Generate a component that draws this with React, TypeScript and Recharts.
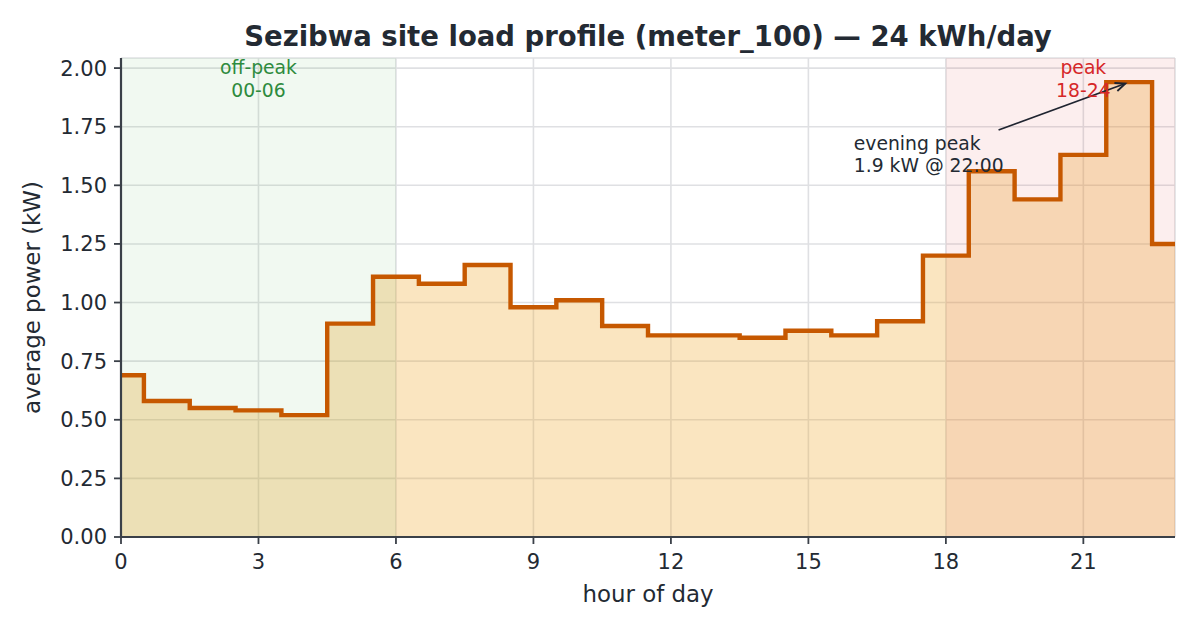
import {
  Area,
  CartesianGrid,
  ComposedChart,
  Label,
  Line,
  ReferenceArea,
  ReferenceDot,
  ReferenceLine,
  XAxis,
  YAxis,
} from 'recharts'

if (typeof document !== 'undefined') document.body.style.margin = '0'

// hourly averages, kW
const HOURS = [0, 1, 2, 3, 4, 5, 6, 7, 8, 9, 10, 11, 12, 13, 14, 15, 16, 17, 18, 19, 20, 21, 22, 23]
const LOAD_KW = [
  0.69, 0.58, 0.55, 0.54, 0.52, 0.91, 1.11, 1.08, 1.16, 0.98, 1.01, 0.9,
  0.86, 0.86, 0.85, 0.88, 0.86, 0.92, 1.2, 1.56, 1.44, 1.63, 1.94, 1.25,
]

const X_TICKS = [0, 3, 6, 9, 12, 15, 18, 21]
const Y_TICKS = [0, 0.25, 0.5, 0.75, 1, 1.25, 1.5, 1.75, 2]
const X_DOMAIN = [0, 23]
const Y_DOMAIN = [0, 2.043]

const OFF_PEAK = [0, 6]
const PEAK = [18, 23] // 18-24 span, cut at the last hour
const REGION_LABELS = [
  { x: 3, lines: ['off-peak', '00-06'], color: '#2e8b3e' },
  { x: 21, lines: ['peak', '18-24'], color: '#d62728' },
]

const PEAK_POINT = { x: 22, y: 1.94 }
const ARROW_TAIL = { x: 19.15, y: 1.736 }
const NOTE_POS = { x: 15.99, y: 1.633 }
const NOTE_LINES = ['evening peak', '1.9 kW @ 22:00']

const TEXT = '#232a33'
const SPINE = '#3a4048'
const GRID = '#dfe0e3'
const LINE = '#c65800'
const FONT = '"DejaVu Sans", sans-serif'

const data = HOURS.map((hour, i) => ({ hour, kw: LOAD_KW[i] }))

const tickStyle = { fill: TEXT, fontSize: 21, fontFamily: FONT }

function ArrowShape(props: any) {
  const { x1, y1, x2, y2 } = props
  const dx = x2 - x1
  const dy = y2 - y1
  const len = Math.sqrt(dx * dx + dy * dy)
  const ux = dx / len
  const uy = dy / len
  // pull the tip back a little, like matplotlib's shrink
  const tx = x2 - ux * 4
  const ty = y2 - uy * 4
  const head = 11
  const spread = 0.4
  const cos = Math.cos(spread)
  const sin = Math.sin(spread)
  const ax = tx - head * (ux * cos - uy * sin)
  const ay = ty - head * (uy * cos + ux * sin)
  const bx = tx - head * (ux * cos + uy * sin)
  const by = ty - head * (uy * cos - ux * sin)
  return (
    <g stroke="#1f2430" strokeWidth={1.8} fill="none">
      <line x1={x1} y1={y1} x2={tx} y2={ty} />
      <polyline points={`${ax},${ay} ${tx},${ty} ${bx},${by}`} />
    </g>
  )
}

function NoteShape(props: any) {
  const { cx, cy } = props
  return (
    <text x={cx} y={cy} fill={TEXT} fontSize={18.75} fontFamily={FONT}>
      <tspan x={cx} y={cy - 4.5}>{NOTE_LINES[0]}</tspan>
      <tspan x={cx} y={cy + 18}>{NOTE_LINES[1]}</tspan>
    </text>
  )
}

function regionLabel(lines: string[], color: string) {
  return (props: any) => {
    const { cx, cy } = props
    return (
      <text fill={color} fontSize={18.75} fontFamily={FONT} textAnchor="middle">
        <tspan x={cx} y={cy + 16}>{lines[0]}</tspan>
        <tspan x={cx} y={cy + 38.5}>{lines[1]}</tspan>
      </text>
    )
  }
}

export default function App() {
  return (
    <div style={{ position: 'relative', width: 1200, height: 630, background: '#fff', fontFamily: FONT }}>
      <div
        style={{
          position: 'absolute',
          left: 121,
          width: 1054,
          top: 23,
          textAlign: 'center',
          fontSize: 27.5,
          lineHeight: '27px',
          fontWeight: 'bold',
          color: TEXT,
          whiteSpace: 'nowrap',
        }}
      >
        Sezibwa site load profile (meter_100) — 24 kWh/day
      </div>
      <ComposedChart
        width={1200}
        height={630}
        data={data}
        margin={{ top: 58, right: 25, bottom: 0, left: 0 }}
        style={{ position: 'absolute', left: 0, top: 0 }}
      >
        <CartesianGrid stroke={GRID} strokeWidth={1.6} />
        <XAxis
          dataKey="hour"
          type="number"
          domain={X_DOMAIN}
          ticks={X_TICKS}
          allowDataOverflow
          height={93}
          tick={tickStyle}
          tickSize={7}
          tickMargin={10}
          stroke={SPINE}
          axisLine={{ stroke: SPINE, strokeWidth: 2.2 }}
          tickLine={{ stroke: SPINE, strokeWidth: 1.8 }}
        >
          <Label
            content={(p: any) => (
              <text
                x={p.viewBox.x + p.viewBox.width / 2}
                y={p.viewBox.y + 65}
                textAnchor="middle"
                fill={TEXT}
                fontSize={22.9}
                fontFamily={FONT}
              >
                hour of day
              </text>
            )}
          />
        </XAxis>
        <XAxis xAxisId="top" orientation="top" type="number" domain={X_DOMAIN} height={0} tick={false} tickLine={false} axisLine={{ stroke: SPINE, strokeWidth: 2.2 }} />
        <YAxis
          type="number"
          domain={Y_DOMAIN}
          ticks={Y_TICKS}
          allowDataOverflow
          width={121}
          tick={tickStyle}
          tickFormatter={(v: number) => v.toFixed(2)}
          tickSize={7}
          tickMargin={7}
          stroke={SPINE}
          axisLine={{ stroke: SPINE, strokeWidth: 2.2 }}
          tickLine={{ stroke: SPINE, strokeWidth: 1.8 }}
        >
          <Label
            content={(p: any) => {
              const cy = p.viewBox.y + p.viewBox.height / 2
              return (
                <text
                  x={40}
                  y={cy}
                  transform={`rotate(-90 40 ${cy})`}
                  textAnchor="middle"
                  fill={TEXT}
                  fontSize={22.9}
                  fontFamily={FONT}
                >
                  average power (kW)
                </text>
              )
            }}
          />
        </YAxis>
        <YAxis yAxisId="right" orientation="right" type="number" domain={Y_DOMAIN} width={0} tick={false} tickLine={false} axisLine={{ stroke: SPINE, strokeWidth: 2.2 }} />

        <Area
          dataKey="kw"
          type="step"
          stroke="none"
          fill="#eea82d"
          fillOpacity={0.3}
          isAnimationActive={false}
        />
        <ReferenceArea x1={OFF_PEAK[0]} x2={OFF_PEAK[1]} y1={Y_DOMAIN[0]} y2={Y_DOMAIN[1]} fill="#2ca02c" fillOpacity={0.066} stroke="none" />
        <ReferenceArea x1={PEAK[0]} x2={PEAK[1]} y1={Y_DOMAIN[0]} y2={Y_DOMAIN[1]} fill="#d62728" fillOpacity={0.08} stroke="none" />
        <Line
          dataKey="kw"
          type="step"
          stroke={LINE}
          strokeWidth={4.4}
          strokeLinejoin="miter"
          strokeLinecap="square"
          dot={false}
          activeDot={false}
          isAnimationActive={false}
        />
        {REGION_LABELS.map((r) => (
          <ReferenceDot key={r.x} x={r.x} y={Y_DOMAIN[1]} r={0} shape={regionLabel(r.lines, r.color)} />
        ))}
        <ReferenceLine
          segment={[
            { x: ARROW_TAIL.x, y: ARROW_TAIL.y },
            { x: PEAK_POINT.x, y: PEAK_POINT.y },
          ]}
          shape={ArrowShape}
        />
        <ReferenceDot x={NOTE_POS.x} y={NOTE_POS.y} r={0} shape={NoteShape} />
      </ComposedChart>
    </div>
  )
}
